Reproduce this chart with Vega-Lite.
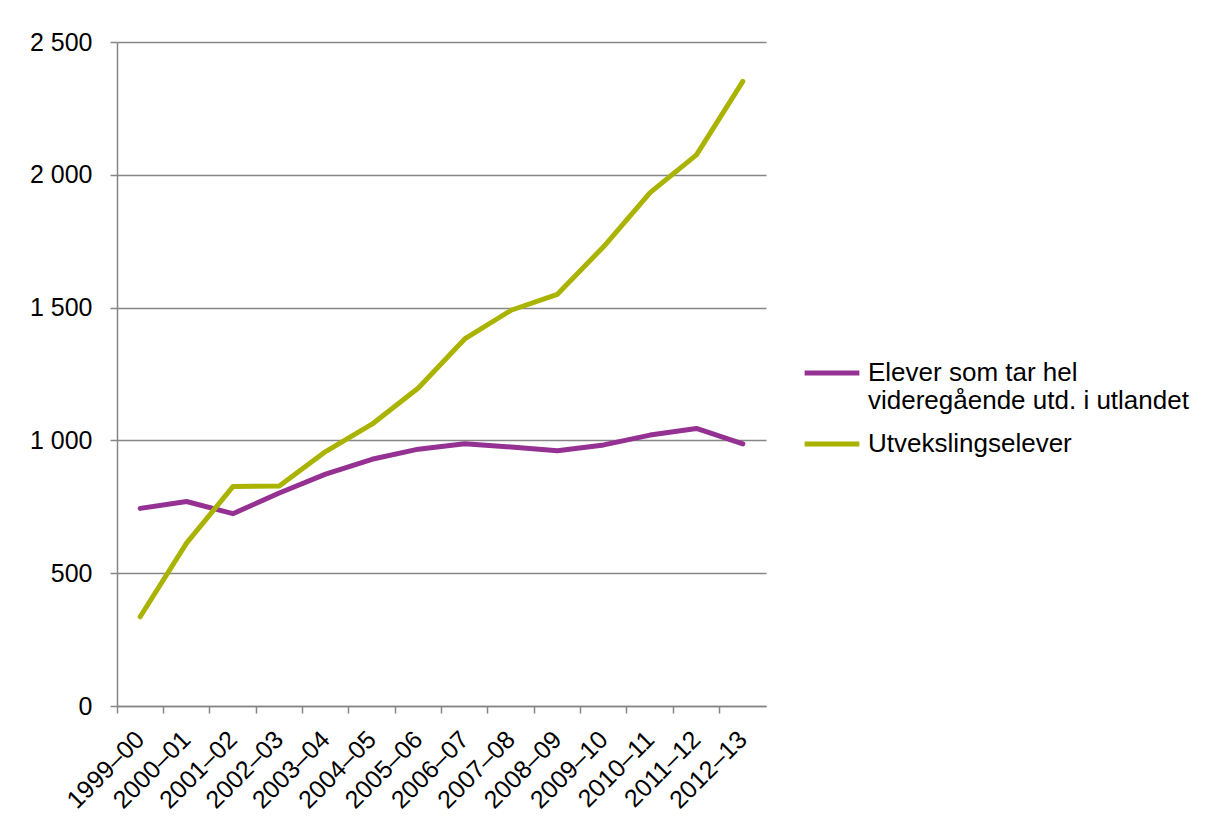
{
  "$schema": "https://vega.github.io/schema/vega-lite/v6.json",
  "autosize": {"type": "none"},
  "width": 649,
  "height": 664,
  "padding": {"left": 117, "top": 42, "right": 443, "bottom": 121},
  "background": "white",
  "config": {
    "view": {"stroke": null},
    "font": "Liberation Sans",
    "axis": {"labelFont": "Liberation Sans", "labelColor": "#000000", "labelFontSize": 25}
  },
  "data": {
    "values": [
      {"year": "1999–00", "series": "Elever som tar hel videregående utd. i utlandet", "value": 744},
      {"year": "2000–01", "series": "Elever som tar hel videregående utd. i utlandet", "value": 770},
      {"year": "2001–02", "series": "Elever som tar hel videregående utd. i utlandet", "value": 724},
      {"year": "2002–03", "series": "Elever som tar hel videregående utd. i utlandet", "value": 802},
      {"year": "2003–04", "series": "Elever som tar hel videregående utd. i utlandet", "value": 873},
      {"year": "2004–05", "series": "Elever som tar hel videregående utd. i utlandet", "value": 929},
      {"year": "2005–06", "series": "Elever som tar hel videregående utd. i utlandet", "value": 967},
      {"year": "2006–07", "series": "Elever som tar hel videregående utd. i utlandet", "value": 987},
      {"year": "2007–08", "series": "Elever som tar hel videregående utd. i utlandet", "value": 975},
      {"year": "2008–09", "series": "Elever som tar hel videregående utd. i utlandet", "value": 961},
      {"year": "2009–10", "series": "Elever som tar hel videregående utd. i utlandet", "value": 983},
      {"year": "2010–11", "series": "Elever som tar hel videregående utd. i utlandet", "value": 1020},
      {"year": "2011–12", "series": "Elever som tar hel videregående utd. i utlandet", "value": 1045},
      {"year": "2012–13", "series": "Elever som tar hel videregående utd. i utlandet", "value": 987},
      {"year": "1999–00", "series": "Utvekslingselever", "value": 336},
      {"year": "2000–01", "series": "Utvekslingselever", "value": 613},
      {"year": "2001–02", "series": "Utvekslingselever", "value": 826},
      {"year": "2002–03", "series": "Utvekslingselever", "value": 828},
      {"year": "2003–04", "series": "Utvekslingselever", "value": 958},
      {"year": "2004–05", "series": "Utvekslingselever", "value": 1061},
      {"year": "2005–06", "series": "Utvekslingselever", "value": 1197},
      {"year": "2006–07", "series": "Utvekslingselever", "value": 1382},
      {"year": "2007–08", "series": "Utvekslingselever", "value": 1490},
      {"year": "2008–09", "series": "Utvekslingselever", "value": 1550},
      {"year": "2009–10", "series": "Utvekslingselever", "value": 1730},
      {"year": "2010–11", "series": "Utvekslingselever", "value": 1933},
      {"year": "2011–12", "series": "Utvekslingselever", "value": 2075},
      {"year": "2012–13", "series": "Utvekslingselever", "value": 2352}
    ]
  },
  "mark": {"type": "line", "strokeWidth": 5, "strokeCap": "round", "strokeJoin": "round"},
  "encoding": {
    "x": {
      "field": "year",
      "type": "ordinal",
      "scale": {"type": "band", "paddingInner": 0, "paddingOuter": 0},
      "axis": {
        "title": null,
        "bandPosition": 0,
        "labelAngle": -45,
        "labelAlign": "right",
        "labelBaseline": "middle",
        "labelPadding": 22,
        "tickSize": 7,
        "tickColor": "#868686",
        "tickWidth": 1.5,
        "domainColor": "#868686",
        "domainWidth": 1.5,
        "grid": false
      }
    },
    "y": {
      "field": "value",
      "type": "quantitative",
      "scale": {"domain": [0, 2500], "nice": false},
      "axis": {
        "title": null,
        "values": [0, 500, 1000, 1500, 2000, 2500],
        "labelExpr": "replace(format(datum.value, ','), ',', ' ')",
        "labelPadding": 18,
        "tickSize": 7,
        "tickColor": "#868686",
        "tickWidth": 1.5,
        "domainColor": "#868686",
        "domainWidth": 1.5,
        "grid": true,
        "gridColor": "#868686",
        "gridWidth": 1.5
      }
    },
    "color": {
      "field": "series",
      "type": "nominal",
      "scale": {
        "domain": ["Elever som tar hel videregående utd. i utlandet", "Utvekslingselever"],
        "range": ["#953193", "#aab300"]
      },
      "legend": {
        "title": null,
        "orient": "none",
        "legendX": 685,
        "legendY": 301,
        "symbolType": "stroke",
        "symbolSize": 3000,
        "symbolStrokeWidth": 5,
        "labelFontSize": 26,
        "labelFont": "Liberation Sans",
        "labelColor": "#000000",
        "labelLimit": 500,
        "labelOffset": 6,
        "labelExpr": "datum.label == 'Utvekslingselever' ? datum.label : ['Elever som tar hel', 'videregående utd. i utlandet']",
        "labelBaseline": "middle",
        "rowPadding": -4
      }
    }
  }
}
